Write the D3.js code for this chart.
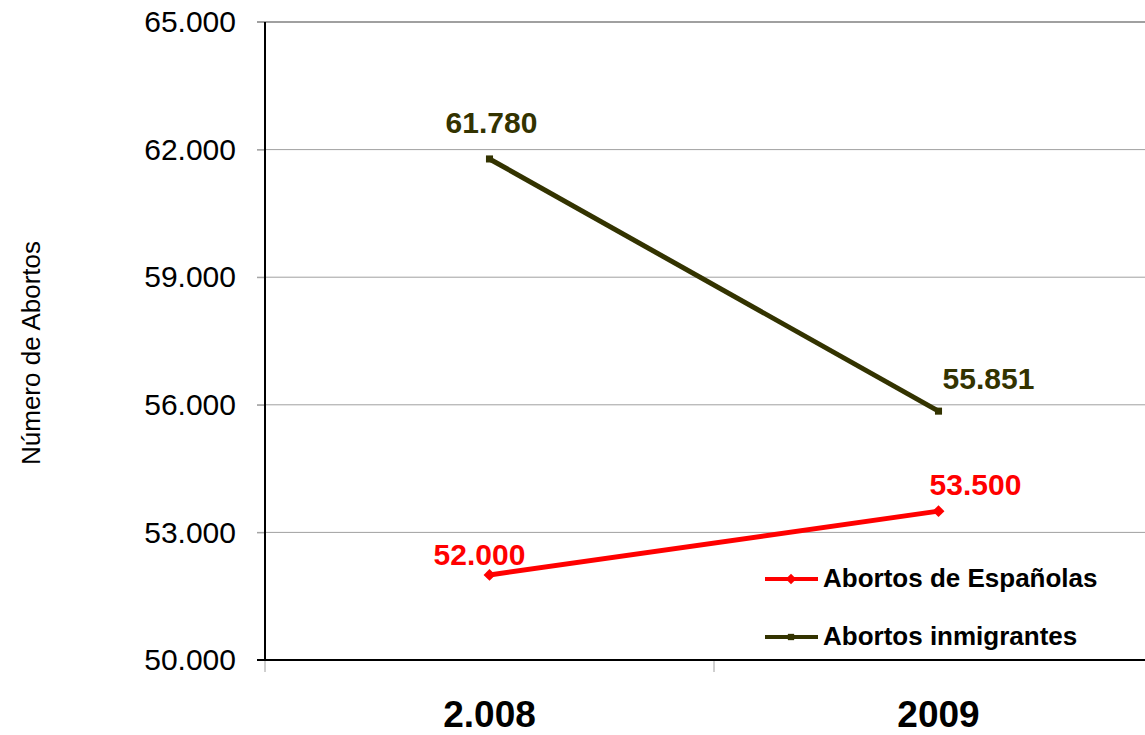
<!DOCTYPE html>
<html>
<head>
<meta charset="utf-8">
<script src="https://cdn.jsdelivr.net/npm/d3@7"></script>
<style>
  body { margin: 0; background: #fff; }
  svg { font-family: "Liberation Sans", Arial, sans-serif; }
</style>
</head>
<body>
<svg id="chart" width="1145" height="735"></svg>
<script>
// dati
const years = ['2.008', '2009']
const espanolas = [52000, 53500]
const inmigrantes = [61780, 55851]
const yTicks = [50000, 53000, 56000, 59000, 62000, 65000]

const series = [
  { name: 'Abortos de Españolas', values: espanolas, color: '#ff0000', marker: 'diamond' },
  { name: 'Abortos inmigrantes', values: inmigrantes, color: '#333300', marker: 'square' }
]

const svg = d3.select('#chart')
const plotLeft = 265, plotRight = 1163, plotTop = 22, plotBottom = 660

const fmt = d => d3.format(',')(d).replace(/,/g, '.')

const xScale = d3.scaleBand().domain(years).range([plotLeft, plotRight])
const yScale = d3.scaleLinear().domain([50000, 65000]).range([plotBottom, plotTop])

// griglia orizzontale
svg.append('g')
  .selectAll('line')
  .data(yTicks.slice(1))
  .enter()
  .append('line')
  .attr('x1', plotLeft - 8)
  .attr('x2', plotRight)
  .attr('y1', d => yScale(d))
  .attr('y2', d => yScale(d))
  .style('stroke', '#a0a0a0')
  .style('stroke-width', d => d === 65000 ? 2 : 1)

// asse y
const yAxis = d3.axisLeft(yScale)
  .tickValues(yTicks)
  .tickSize(8)
  .tickPadding(21)
  .tickFormat(fmt)
const gy = svg.append('g')
  .attr('transform', `translate(${plotLeft}, 0)`)
  .call(yAxis)
gy.select('path.domain').remove()
gy.selectAll('.tick line').style('stroke', '#a0a0a0')
gy.selectAll('.tick text')
  .style('font-size', '30px')
  .style('fill', '#000')
  .style('font-family', '"Liberation Sans", Arial, sans-serif')

svg.append('line')
  .attr('x1', plotLeft).attr('x2', plotLeft)
  .attr('y1', plotTop).attr('y2', plotBottom)
  .style('stroke', '#000').style('stroke-width', 2)

// asse x
svg.append('g')
  .selectAll('line')
  .data(years)
  .enter()
  .append('line')
  .attr('x1', d => xScale(d)).attr('x2', d => xScale(d))
  .attr('y1', plotBottom).attr('y2', plotBottom + 12)
  .style('stroke', '#a0a0a0')

svg.append('line')
  .attr('x1', plotLeft - 8).attr('x2', plotRight)
  .attr('y1', plotBottom).attr('y2', plotBottom)
  .style('stroke', '#000').style('stroke-width', 2)

svg.append('g')
  .selectAll('text')
  .data(years)
  .enter()
  .append('text')
  .attr('x', d => xScale(d) + xScale.bandwidth() / 2)
  .attr('y', 727)
  .attr('text-anchor', 'middle')
  .style('font-size', '37px')
  .style('font-weight', 'bold')
  .text(d => d)

// etichetta asse y
svg.append('text')
  .attr('transform', `translate(40, 353) rotate(-90)`)
  .attr('text-anchor', 'middle')
  .style('font-size', '26px')
  .text('Número de Abortos')

const cx = (d, i) => xScale(years[i]) + xScale.bandwidth() / 2

const line = d3.line()
  .x((d, i) => cx(d, i))
  .y(d => yScale(d))

series.forEach(s => {
  svg.append('path')
    .datum(s.values)
    .attr('d', line)
    .style('fill', 'none')
    .style('stroke', s.color)
    .style('stroke-width', 5)
  svg.append('g')
    .selectAll('path')
    .data(s.values)
    .enter()
    .append('path')
    .attr('transform', (d, i) => `translate(${cx(d, i)}, ${yScale(d)})`)
    .attr('d', d3.symbol().type(s.marker === 'diamond' ? d3.symbolDiamond2 : d3.symbolSquare).size(s.marker === 'diamond' ? 90 : 50)())
    .style('fill', s.color)
})

// etichette dati
const labelOffsets = [
  [[-10, -10], [37, -16]],   // espanolas
  [[2, -26], [50, -22]]      // inmigrantes
]
series.forEach((s, si) => {
  svg.append('g')
    .selectAll('text')
    .data(s.values)
    .enter()
    .append('text')
    .attr('x', (d, i) => cx(d, i) + labelOffsets[si][i][0])
    .attr('y', (d, i) => yScale(d) + labelOffsets[si][i][1])
    .attr('text-anchor', 'middle')
    .style('font-size', '30px')
    .style('font-weight', 'bold')
    .style('fill', s.color)
    .text(fmt)
})

// legenda
series.forEach((s, i) => {
  const ly = 579 + i * 58
  svg.append('line')
    .attr('x1', 765).attr('x2', 818)
    .attr('y1', ly).attr('y2', ly)
    .style('stroke', s.color).style('stroke-width', 4)
  svg.append('path')
    .attr('transform', `translate(791, ${ly})`)
    .attr('d', d3.symbol().type(s.marker === 'diamond' ? d3.symbolDiamond2 : d3.symbolSquare).size(s.marker === 'diamond' ? 70 : 40)())
    .style('fill', s.color)
  svg.append('text')
    .attr('x', 823).attr('y', ly + 8)
    .style('font-size', '26px')
    .style('font-weight', 'bold')
    .text(s.name)
})
</script>
</body>
</html>
